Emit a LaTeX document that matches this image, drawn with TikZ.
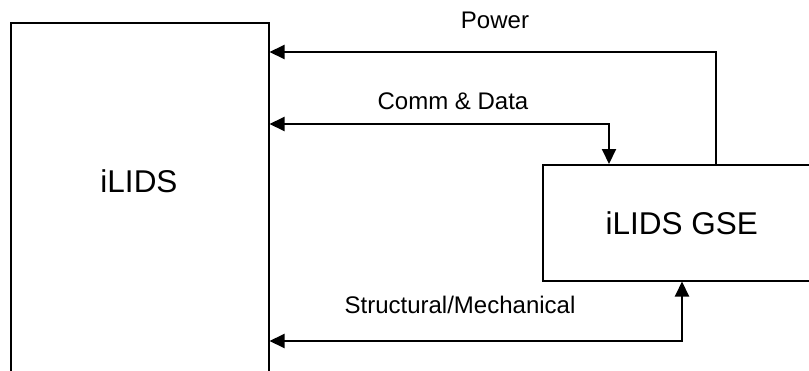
\documentclass[tikz,border=0pt]{standalone}
\usepackage{fontspec}
\setmainfont{Liberation Sans}
\usetikzlibrary{arrows.meta,positioning}

\begin{document}
\begin{tikzpicture}[x=1pt,y=-1pt,
	unit/.style={draw,line width=1.5pt,rectangle,inner sep=0pt},
	link/.style={line width=2pt,{Triangle[length=15pt,width=14pt]}-{Triangle[length=15pt,width=14pt]}},
	feed/.style={line width=2pt,-{Triangle[length=15pt,width=14pt]}},
	lbl/.style={font=\fontsize{24}{28}\selectfont},
	big/.style={font=\fontsize{31.5}{36}\selectfont}]
			\useasboundingbox (0,0) rectangle (809,370);
			\clip (0,0) rectangle (809,370);
			
			% the two units
			\node[unit,anchor=north west,minimum width=258pt,minimum height=420pt] (ilids) at (10,22) {};
			\node[big] (ilidstxt) at (139,181) {iLIDS};
			\node[unit,big,anchor=north west,minimum width=278pt,minimum height=116pt] (gse) at (542,164) {iLIDS GSE};
			
			% bends of the interfaces
			\coordinate (pwr) at (716,52);
			\coordinate (comm) at (609,124);
			\coordinate (mech) at (682,341);
			
			\draw[feed] (gse.north -| pwr) |- (ilids.east |- pwr);
			\node[lbl] (pwrlbl) at (495,20) {Power};
			
			\draw[link] (ilids.east |- comm) -| (gse.north -| comm);
			\node[lbl] (commlbl) at (453,101) {Comm \& Data};
			
			\draw[link] (ilids.east |- mech) -| (gse.south -| mech);
			\node[lbl] (mechlbl) at (460,305) {Structural/Mechanical};
\end{tikzpicture}
\end{document}
